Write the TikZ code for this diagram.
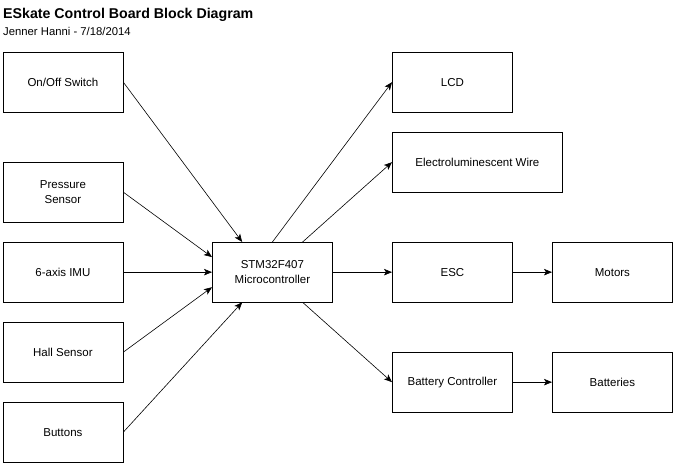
\documentclass[tikz,border=0pt]{standalone}
\usepackage{fontspec}
\setmainfont{Liberation Sans}
\usetikzlibrary{arrows.meta,calc}
\begin{document}
\begin{tikzpicture}[x=1pt,y=-1pt,
  blk/.style={draw, line width=0.8pt, minimum width=120pt, minimum height=59.5pt, align=center,
    font=\fontsize{11.5}{14.3}\selectfont, inner sep=0pt, anchor=north west},
  conn/.style={-{Stealth[length=8pt,width=6.5pt,inset=2pt]}, line width=0.6pt}]
\useasboundingbox (0,0) rectangle (673,466);
\node[anchor=base west, font=\bfseries\fontsize{14.2}{16}\selectfont, inner sep=0pt] (title) at (3,18.3) {ESkate Control Board Block Diagram};
\node[anchor=base west, font=\fontsize{11.3}{13}\selectfont, inner sep=0pt] (sub) at (3,35.3) {Jenner Hanni - 7/18/2014};
\node[blk] (onoff) at (2.5,52) {On/Off Switch};
\node[blk] (press) at (2.5,162) {Pressure\\Sensor};
\node[blk] (imu) at (2.5,242) {6-axis IMU};
\node[blk] (hall) at (2.5,322) {Hall Sensor};
\node[blk] (btn) at (2.5,402) {Buttons};
\node[blk] (stm) at (212,242) {STM32F407\\Microcontroller};
\node[blk] (lcd) at (392,52) {LCD};
\node[blk, minimum width=170pt] (el) at (392,132) {Electroluminescent Wire};
\node[blk] (esc) at (392,242) {ESC};
\node[blk] (mot) at (552,242) {Motors};
\node[blk] (bc) at (392,352) {Battery Controller};
\node[blk] (bat) at (552,352) {Batteries};
\draw[conn] (onoff.east) -- ($(stm.north west)!0.25!(stm.north east)$);
\draw[conn] (press.east) -- ($(stm.north west)!0.25!(stm.south west)$);
\draw[conn] (imu.east) -- (stm.west);
\draw[conn] (hall.east) -- ($(stm.north west)!0.75!(stm.south west)$);
\draw[conn] (btn.east) -- ($(stm.south west)!0.25!(stm.south east)$);
\draw[conn] (stm.north) -- (lcd.west);
\draw[conn] ($(stm.north west)!0.75!(stm.north east)$) -- (el.west);
\draw[conn] (stm.east) -- (esc.west);
\draw[conn] ($(stm.south west)!0.75!(stm.south east)$) -- (bc.west);
\draw[conn] (esc.east) -- (mot.west);
\draw[conn] (bc.east) -- (bat.west);
\end{tikzpicture}
\end{document}
